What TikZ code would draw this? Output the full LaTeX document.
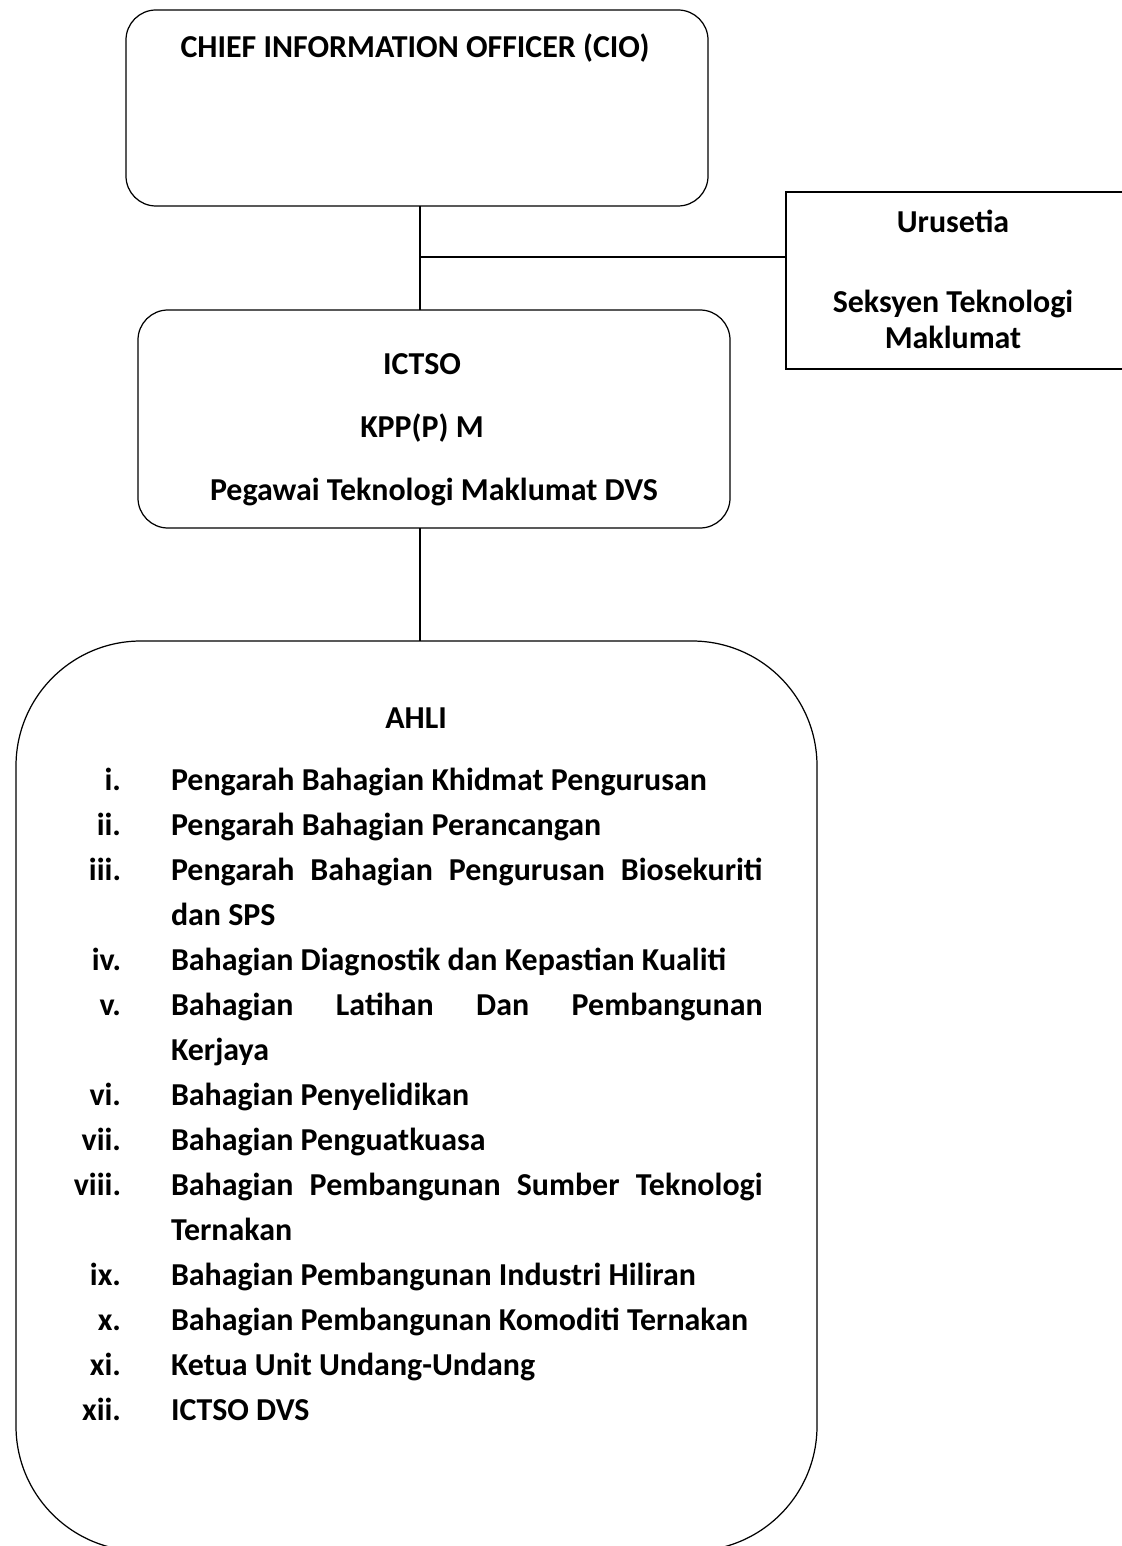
\documentclass[tikz,border=0pt]{standalone}
\usepackage{fontspec}
\setmainfont{Carlito}
\begin{document}
\begin{tikzpicture}[x=0.01cm,y=-0.01cm,
  every node/.style={inner sep=0pt,outer sep=0pt,font=\fontsize{9.08}{11}\selectfont\bfseries},
  boxline/.style={draw=black,line width=0.35pt},
  conn/.style={draw=black,line width=0.35pt},
  txt/.style={anchor=base},
  num/.style={anchor=base east},
  item/.style={anchor=base west}]
\useasboundingbox (0,0) rectangle (1121,1546);
% boxes
\draw[boxline,rounded corners=30*0.01cm] (126,10) rectangle (708,206);
\draw[boxline] (1130,192) -- (786,192) -- (786,369) -- (1130,369);
\draw[boxline,rounded corners=30*0.01cm] (138,310) rectangle (730,528);
\draw[boxline,rounded corners=125*0.01cm] (16,641) rectangle (817,1551);
% anchor coordinates for connectors
\coordinate (cioB) at (420,206);
\coordinate (ictT) at (420,310);
\coordinate (junc) at (420,257);
\coordinate (uruL) at (786,257);
\coordinate (ictB) at (420,528);
\coordinate (ahlT) at (420,641);
\draw[conn] (cioB) -- (ictT);
\draw[conn] (junc) -- (uruL);
\draw[conn] (ictB) -- (ahlT);
% texts
\node[txt] (cio) at (415,58) {CHIEF INFORMATION OFFICER (CIO)};
\node[txt] (uru1) at (953,233) {Urusetia};
\node[txt] (uru2) at (953,313) {Seksyen Teknologi};
\node[txt] (uru3) at (953,348) {Maklumat};
\node[txt] (ict1) at (422,374) {ICTSO};
\node[txt] (ict2) at (422,437) {KPP(P) M};
\node[txt] (ict3) at (434,500) {Pegawai Teknologi Maklumat DVS};
\node[txt] (ahli) at (416,728) {AHLI};
% list
\node[num] (n1) at (121,790) {i.};
\node[item] (t1) at (171,790) {Pengarah Bahagian Khidmat Pengurusan};
\node[num] (n2) at (121,835) {ii.};
\node[item] (t2) at (171,835) {Pengarah Bahagian Perancangan};
\node[num] (n3) at (121,880) {iii.};
\node[item] (t3) at (171,880) {\makebox[168.2pt][s]{Pengarah Bahagian Pengurusan Biosekuriti}};
\node[item] (t3b) at (171,925) {dan SPS};
\node[num] (n4) at (121,970) {iv.};
\node[item] (t4) at (171,970) {Bahagian Diagnostik dan Kepastian Kualiti};
\node[num] (n5) at (121,1015) {v.};
\node[item] (t5) at (171,1015) {\makebox[168.2pt][s]{Bahagian Latihan Dan Pembangunan}};
\node[item] (t5b) at (171,1060) {Kerjaya};
\node[num] (n6) at (121,1105) {vi.};
\node[item] (t6) at (171,1105) {Bahagian Penyelidikan};
\node[num] (n7) at (121,1150) {vii.};
\node[item] (t7) at (171,1150) {Bahagian Penguatkuasa};
\node[num] (n8) at (121,1195) {viii.};
\node[item] (t8) at (171,1195) {\makebox[168.2pt][s]{Bahagian Pembangunan Sumber Teknologi}};
\node[item] (t8b) at (171,1240) {Ternakan};
\node[num] (n9) at (121,1285) {ix.};
\node[item] (t9) at (171,1285) {Bahagian Pembangunan Industri Hiliran};
\node[num] (n10) at (121,1330) {x.};
\node[item] (t10) at (171,1330) {Bahagian Pembangunan Komoditi Ternakan};
\node[num] (n11) at (121,1375) {xi.};
\node[item] (t11) at (171,1375) {Ketua Unit Undang-Undang};
\node[num] (n12) at (121,1420) {xii.};
\node[item] (t12) at (171,1420) {ICTSO DVS};
\end{tikzpicture}
\end{document}
